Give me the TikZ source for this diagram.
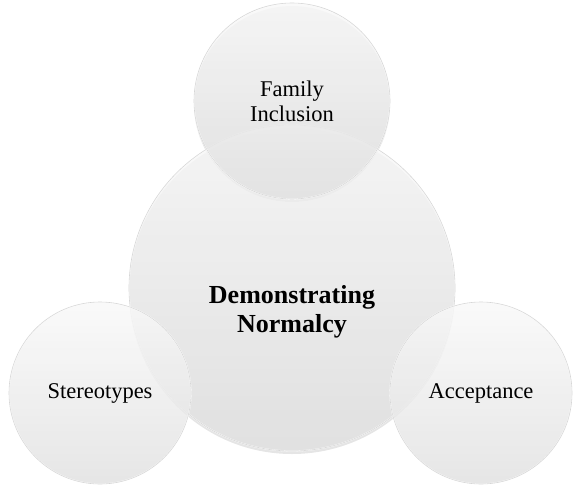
\documentclass[tikz,border=0pt]{standalone}
\usepackage{fontspec}
\setmainfont{Liberation Serif}
\usepackage[dvipsnames]{xcolor}

\begin{document}
\begin{tikzpicture}[x=1pt,y=-1pt,
    bubble/.style={circle,draw=white,line width=1.2pt,top color=gray!5,bottom color=gray!24,
        fill opacity=0.82,text opacity=1,inner sep=0pt,font=\fontsize{22.5}{25}\selectfont,align=center},
    rim/.style={circle,draw=gray!45,line width=0.6pt,inner sep=0pt,draw opacity=0.7},
    shade node/.style={circle,fill=black,fill opacity=0.10,inner sep=0pt},
    main label/.style={font=\bfseries\fontsize{26}{29}\selectfont,align=center}]

            \useasboundingbox (0,0) rectangle (577,484);

            % soft shadows under the bubbles
            \node[shade node, minimum size=326pt] (demoshd) at (292,291) {};
            \node[shade node, minimum size=196pt] (famshd) at (292,104) {};

            \node[bubble, minimum size=326pt] (demo) at (292,288) {};
            \node[rim, minimum size=326pt] (demorim) at (demo.center) {};

            \node[bubble, minimum size=196pt] (fam) at (292,101) {Family\\Inclusion};
            \node[rim, minimum size=196pt] (famrim) at (fam.center) {};

            \node[bubble, minimum size=182pt] (stereo) at (100,393) {Stereotypes};
            \node[rim, minimum size=182pt] (stereorim) at (stereo.center) {};

            \node[bubble, minimum size=182pt] (accept) at (481,393) {Acceptance};
            \node[rim, minimum size=182pt] (acceptrim) at (accept.center) {};

            \node[main label] (demolbl) at (demo.center) [yshift=-24pt] {Demonstrating\\Normalcy};

        \end{tikzpicture}
\end{document}
